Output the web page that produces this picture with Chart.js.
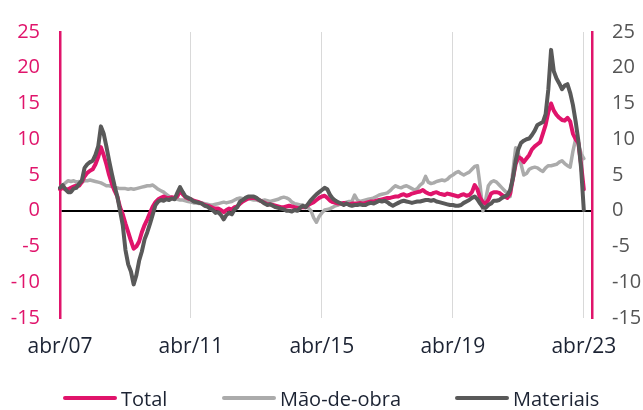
<!DOCTYPE html>
<html>
<head>
<meta charset="utf-8">
<script src="https://cdn.jsdelivr.net/npm/chart.js@4.4.0/dist/chart.umd.min.js"></script>
<style>
  body { margin: 0; background: #fff; }
  #wrap { position: relative; width: 643px; height: 410px; }
  #chart { position: absolute; left: 0; top: 0; }
  .item { position: absolute; top: 386px; height: 24px; display: flex; align-items: center;
          font: 20px "Open Sans", sans-serif; color: #1c2333; white-space: nowrap; }
  .item i { display: inline-block; width: 54px; height: 4px; border-radius: 2px; margin-right: 4px; }
</style>
</head>
<body>
<div id="wrap">
  <canvas id="chart" width="643" height="410"></canvas>
  <div class="item" style="left:63px"><i style="background:#E0146B"></i>Total</div>
  <div class="item" style="left:222px"><i style="background:#ABABAB"></i>Mão-de-obra</div>
  <div class="item" style="left:455px"><i style="background:#595959"></i>Materiais</div>
</div>
<script>
"use strict";

// months abr/07 .. jul/23 (the last three have no data)
const monthNames = ["jan", "fev", "mar", "abr", "mai", "jun", "jul", "ago", "set", "out", "nov", "dez"];
const categories = [];
for (let k = 0; k < 196; k++) {
    const m = (3 + k) % 12;
    const y = 7 + Math.floor((3 + k) / 12);
    categories.push(monthNames[m] + "/" + String(y).padStart(2, "0"));
}

const tickLabels = ["abr/07", "abr/11", "abr/15", "abr/19", "abr/23"];

// one row per year, abr to mar
const total = [
    3.0, 3.2, 3.0, 3.0, 3.2, 3.4, 3.5, 3.5, 4.0, 4.8, 5.3, 5.6,
    5.8, 6.5, 7.5, 8.9, 7.8, 6.5, 5.0, 3.8, 2.8, 2.0, 0.5, -0.5,
    -1.8, -3.0, -4.2, -5.3, -5.0, -4.3, -3.0, -2.0, -1.2, -0.3, 0.6, 1.2,
    1.6, 1.8, 2.0, 1.8, 1.8, 1.9, 1.8, 2.0, 2.8, 2.3, 1.9, 1.7,
    1.6, 1.4, 1.3, 1.2, 1.0, 0.8, 0.7, 0.6, 0.4, 0.3, 0.3, 0.1,
    -0.2, 0.1, 0.3, 0.2, 0.5, 0.6, 1.0, 1.3, 1.5, 1.7, 1.8, 1.8,
    1.7, 1.5, 1.3, 1.1, 0.9, 0.9, 0.8, 0.7, 0.6, 0.5, 0.5, 0.6,
    0.7, 0.6, 0.5, 0.4, 0.4, 0.5, 0.5, 0.8, 1.0, 1.2, 1.5, 1.8,
    2.0, 2.1, 1.8, 1.4, 1.2, 1.1, 1.0, 1.0, 1.1, 1.0, 0.9, 1.0,
    1.0, 1.0, 1.1, 1.0, 1.1, 1.2, 1.3, 1.3, 1.4, 1.5, 1.6, 1.7,
    1.8, 1.8, 1.9, 2.0, 2.0, 2.2, 2.3, 2.1, 2.2, 2.4, 2.5, 2.6,
    2.7, 2.9, 2.6, 2.4, 2.3, 2.5, 2.6, 2.4, 2.3, 2.2, 2.4, 2.3,
    2.2, 2.1, 2.0, 2.2, 2.3, 2.1, 2.2, 2.6, 3.6, 3.0, 1.8, 1.2,
    1.0, 1.5, 2.4, 2.6, 2.6, 2.5, 2.2, 2.0, 1.8, 2.4, 4.5, 6.5,
    7.5, 7.3, 6.8, 7.3, 7.8, 8.6, 9.0, 9.3, 9.6, 10.8, 12.0, 13.8,
    15.0, 14.0, 13.4, 13.0, 12.7, 12.6, 13.0, 12.5, 10.8, 10.0, 9.5, 6.5,
    3.0
];

const maoDeObra = [
    3.2, 3.6, 3.9, 4.2, 4.1, 4.2, 4.0, 4.1, 4.0, 4.2, 4.2, 4.3,
    4.2, 4.1, 4.0, 3.9, 3.7, 3.5, 3.5, 3.4, 3.3, 3.2, 3.1, 3.1,
    3.1, 3.0, 3.1, 3.0, 3.1, 3.2, 3.3, 3.4, 3.5, 3.5, 3.6, 3.3,
    3.0, 2.8, 2.6, 2.3, 2.0, 1.8, 1.7, 1.6, 1.5, 1.5, 1.4, 1.3,
    1.2, 1.1, 1.1, 1.0, 1.1, 1.0, 0.9, 0.8, 0.8, 0.9, 1.0, 1.1,
    1.2, 1.1, 1.2, 1.3, 1.5, 1.7, 1.8, 1.7, 1.6, 1.7, 1.6, 1.5,
    1.5, 1.4, 1.4, 1.5, 1.4, 1.3, 1.4, 1.5, 1.6, 1.8, 1.9, 1.8,
    1.6, 1.2, 1.0, 0.9, 0.8, 0.8, 0.6, 0.4, 0.0, -1.0, -1.6, -0.8,
    -0.3, 0.1, 0.2, 0.3, 0.5, 0.7, 0.8, 1.0, 1.1, 1.2, 1.3, 1.3,
    2.2, 1.5, 1.3, 1.4, 1.5, 1.6, 1.7, 1.8, 2.0, 2.2, 2.3, 2.4,
    2.5, 2.8, 3.2, 3.5, 3.3, 3.2, 3.4, 3.5, 3.3, 3.1, 2.9, 3.1,
    3.6, 3.9, 4.8, 4.0, 3.8, 3.9, 4.1, 4.2, 4.3, 4.2, 4.4, 4.8,
    5.0, 5.3, 5.5, 5.2, 5.0, 5.2, 5.4, 5.8, 6.2, 6.3, 3.5, 0.0,
    1.5, 3.5, 4.0, 4.2, 4.0, 3.6, 3.2, 2.8, 2.4, 2.0, 5.5, 8.8,
    8.0, 6.5, 5.0, 5.2, 5.8, 6.0, 6.1, 6.0, 5.7, 5.5, 6.0, 6.3,
    6.3, 6.4, 6.5, 6.8, 7.0, 6.6, 6.3, 6.1, 8.3, 10.0, 9.5, 8.0,
    7.3
];

const materiais = [
    3.2, 3.6, 3.0, 2.6, 2.6, 3.1, 3.2, 3.8, 4.2, 6.0, 6.5, 6.8,
    7.0, 7.8, 9.0, 11.8, 10.8, 9.0, 7.0, 5.2, 3.5, 2.0, 0.0, -2.0,
    -5.5, -7.5, -8.5, -10.3, -9.0, -7.0, -5.7, -4.0, -3.0, -1.8, -0.5, 0.8,
    1.3, 1.5, 1.4, 1.6, 1.5, 1.7, 1.6, 2.5, 3.3, 2.6, 2.0, 1.8,
    1.6, 1.3, 1.2, 1.1, 1.0, 0.7, 0.6, 0.3, 0.1, -0.3, -0.2, -0.6,
    -1.2, -0.6, -0.3, -0.5, 0.2, 0.5, 1.3, 1.5, 1.8, 2.0, 2.0, 2.0,
    1.8, 1.5, 1.3, 1.0, 0.8, 0.9, 0.7, 0.5, 0.4, 0.3, 0.2, 0.0,
    0.0, -0.1, 0.1, 0.0, 0.4, 0.7, 0.5, 1.0, 1.5, 1.9, 2.3, 2.6,
    2.9, 3.2, 3.0, 2.2, 1.7, 1.4, 1.2, 1.0, 0.8, 1.0, 0.8, 0.7,
    0.8, 0.8, 0.9, 0.8, 0.8, 1.0, 1.1, 1.0, 1.2, 1.4, 1.3, 1.4,
    1.2, 0.9, 0.7, 0.9, 1.1, 1.3, 1.4, 1.3, 1.2, 1.1, 1.2, 1.3,
    1.3, 1.4, 1.5, 1.5, 1.4, 1.5, 1.3, 1.2, 1.1, 1.0, 0.9, 0.8,
    0.8, 0.7, 0.7, 0.8, 1.1, 1.3, 1.5, 1.8, 2.0, 1.6, 1.0, 0.5,
    0.4, 0.8, 1.0, 1.4, 1.4, 1.5, 1.8, 2.0, 2.2, 2.9, 4.5, 7.0,
    8.6, 9.5, 9.8, 10.0, 10.1, 10.6, 11.2, 12.0, 12.2, 12.4, 13.5, 17.0,
    22.5, 19.5, 18.5, 17.8, 17.0, 17.5, 17.7, 16.5, 14.8, 12.5, 9.8, 6.0,
    0.1
];

const pink = "#E0146B";
const textColor = "#1c2333";
const fontFamily = "'Open Sans', sans-serif";
const tickIdx = tickLabels.map(l => categories.indexOf(l));

let ctx = document.getElementById("chart").getContext("2d");

new Chart(ctx, {
    type: "line",
    data: {
        labels: categories,
        datasets: [
            { label: "Total", data: total, borderColor: pink, borderWidth: 4, order: 1 },
            { label: "Mão-de-obra", data: maoDeObra, borderColor: "#ABABAB", borderWidth: 3.5, order: 2 },
            { label: "Materiais", data: materiais, borderColor: "#595959", borderWidth: 4, order: 0 }
        ]
    },
    options: {
        responsive: false,
        animation: false,
        devicePixelRatio: 1,
        layout: { padding: { top: 25, left: 0, right: 0, bottom: 0 } },
        elements: {
            point: { radius: 0 },
            line: { tension: 0, borderJoinStyle: "round", borderCapStyle: "round" }
        },
        plugins: {
            legend: { display: false },
            tooltip: { enabled: false }
        },
        scales: {
            x: {
                ticks: {
                    autoSkip: false,
                    maxRotation: 0,
                    padding: 16,
                    color: textColor,
                    font: { size: 21, family: fontFamily },
                    callback: (v, i) => tickIdx.includes(i) ? categories[i] : ""
                },
                grid: {
                    drawTicks: false,
                    color: c => (tickIdx.includes(c.index) && c.index > 0) ? "#d9d9d9" : "rgba(0,0,0,0)"
                },
                border: { display: false },
                afterFit: s => { s.height = 92; }
            },
            y: {
                position: "left",
                min: -15,
                max: 25,
                ticks: { stepSize: 5, padding: 20, color: pink, font: { size: 20, family: fontFamily } },
                grid: {
                    drawTicks: false,
                    color: c => c.tick.value === 0 ? "#000" : "rgba(0,0,0,0)",
                    lineWidth: c => c.tick.value === 0 ? 2 : 1
                },
                border: { color: pink, width: 2.5 },
                afterFit: s => { s.width = 60; }
            },
            y2: {
                position: "right",
                min: -15,
                max: 25,
                ticks: { stepSize: 5, padding: 20, color: "#555", font: { size: 20, family: fontFamily } },
                grid: { display: false, drawTicks: false },
                border: { color: pink, width: 2.5 },
                afterFit: s => { s.width = 51; }
            }
        }
    }
});
</script>
</body>
</html>
